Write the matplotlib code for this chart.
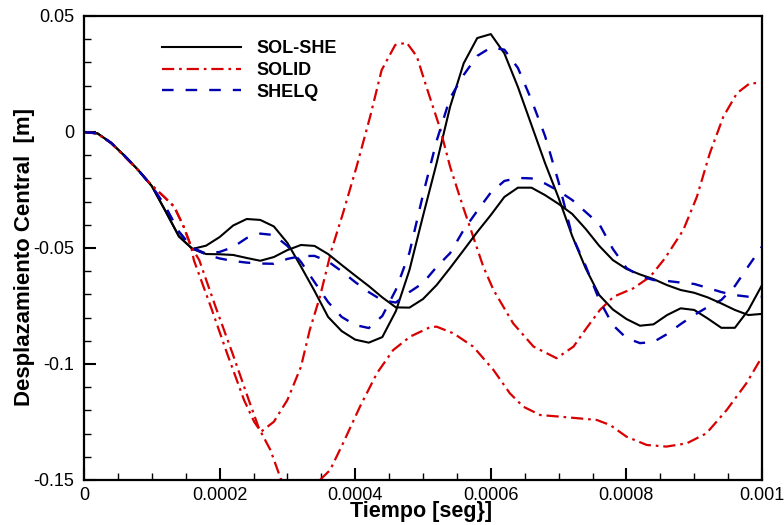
import matplotlib
matplotlib.use("Agg")
import matplotlib.pyplot as plt
from matplotlib.ticker import MultipleLocator
import numpy as np

plt.rcParams['font.family'] = ['Liberation Sans', 'DejaVu Sans']
plt.rcParams['axes.unicode_minus'] = False

# time grid of the SOL-SHE / SHELQ results (microseconds)
t_us = [0, 20, 40, 60, 80, 100, 120, 140, 160, 180, 200, 220, 240, 260, 280,
        300, 320, 340, 360, 380, 400, 420, 440, 460, 480, 500, 520, 540, 560,
        580, 600, 620, 640, 660, 680, 700, 720, 740, 760, 780, 800, 820, 840,
        860, 880, 900, 920, 940, 960, 980, 1000]

solshe_a = [0, -0.0006, -0.0047, -0.0103, -0.0164, -0.0233, -0.034, -0.045, -0.0504,
            -0.049, -0.0453, -0.0403, -0.0375, -0.0379, -0.0407, -0.0478, -0.058,
            -0.0685, -0.0797, -0.0858, -0.0895, -0.0908, -0.0884, -0.0772, -0.0595,
            -0.0362, -0.0135, 0.0109, 0.0296, 0.0405, 0.0422, 0.0339, 0.0194, 0.003,
            -0.0134, -0.0284, -0.0448, -0.0588, -0.0703, -0.0765, -0.0806, -0.0835,
            -0.0829, -0.0789, -0.076, -0.0767, -0.0804, -0.0844, -0.0844, -0.0767, -0.066]
solshe_b = [0, -0.0006, -0.0047, -0.0103, -0.0164, -0.0233, -0.034, -0.045, -0.0504,
            -0.0526, -0.0527, -0.053, -0.0543, -0.0555, -0.0539, -0.0509, -0.0487,
            -0.0491, -0.0526, -0.0573, -0.0619, -0.0664, -0.0713, -0.0756, -0.0757,
            -0.072, -0.066, -0.0586, -0.0509, -0.0431, -0.0358, -0.028, -0.024, -0.024,
            -0.0272, -0.031, -0.0353, -0.0418, -0.0491, -0.0552, -0.059, -0.0614,
            -0.0634, -0.066, -0.0681, -0.0693, -0.0713, -0.0739, -0.0767, -0.0789, -0.0784]

shelq_a = [0, -0.0006, -0.0047, -0.0103, -0.0164, -0.0233, -0.0322, -0.043, -0.05,
           -0.0524, -0.0517, -0.0496, -0.0457, -0.0438, -0.0444, -0.0491, -0.056,
           -0.0647, -0.0733, -0.0797, -0.0832, -0.0845, -0.0793, -0.068, -0.052,
           -0.027, -0.0039, 0.0147, 0.0246, 0.0328, 0.0364, 0.0355, 0.0276, 0.0138,
           -0.0017, -0.0216, -0.0448, -0.0578, -0.0724, -0.0832, -0.0888, -0.091,
           -0.0905, -0.0871, -0.0828, -0.0789, -0.0754, -0.0724, -0.0664, -0.0578, -0.0494]
shelq_b = [0, -0.0006, -0.0047, -0.0103, -0.0164, -0.0233, -0.0322, -0.043, -0.05,
           -0.0528, -0.0545, -0.0556, -0.0563, -0.0567, -0.0568, -0.0547, -0.0535,
           -0.0534, -0.0558, -0.06, -0.0647, -0.069, -0.0726, -0.0735, -0.069,
           -0.0651, -0.0582, -0.0522, -0.0422, -0.034, -0.0261, -0.0211, -0.0198, -0.02,
           -0.0222, -0.0254, -0.0293, -0.0345, -0.0397, -0.0504, -0.0586, -0.0621,
           -0.0638, -0.0642, -0.0649, -0.0655, -0.0672, -0.069, -0.0703, -0.071, -0.071]

# SOLID results (finer output, read point by point)
solid_a_t = [0, 0.0000192, 0.0000398, 0.000059, 0.0000796, 0.0000988, 0.000118, 0.000133,
             0.000147, 0.000158, 0.000162, 0.000187, 0.000211, 0.000236, 0.000251, 0.000261,
             0.00028, 0.0003, 0.00032, 0.000333, 0.000348, 0.000365, 0.000382, 0.000402,
             0.000422, 0.000439, 0.000459, 0.000476, 0.000491, 0.000505, 0.000525, 0.00054,
             0.000559, 0.000574, 0.000589, 0.000604, 0.000633, 0.000663, 0.000697, 0.000722,
             0.000741, 0.000761, 0.000781, 0.00081, 0.000835, 0.000857, 0.000884, 0.000904,
             0.000923, 0.000943, 0.000963, 0.000982, 0.001]
solid_a = [0, -0.0006, -0.0047, -0.0103, -0.0164, -0.0227, -0.0279, -0.0322,
           -0.0408, -0.0494, -0.0552, -0.0753, -0.0954, -0.1155, -0.1249, -0.1292,
           -0.1249, -0.1155, -0.1012, -0.0853, -0.071, -0.0509, -0.035, -0.015,
           0.0066, 0.0267, 0.0375, 0.0385, 0.0325, 0.0195, 0.0017, -0.015,
           -0.0322, -0.0451, -0.0581, -0.0681, -0.0825, -0.0925, -0.0975, -0.0925,
           -0.0846, -0.0767, -0.071, -0.0674, -0.0624, -0.0544, -0.0422, -0.0279,
           -0.0092, 0.0066, 0.0167, 0.021, 0.0211]

solid_b_t = [0, 0.0000192, 0.0000398, 0.000059, 0.0000796, 0.0000988, 0.000118, 0.000133,
             0.000147, 0.000158, 0.00017, 0.000194, 0.000219, 0.000243, 0.000258, 0.000275,
             0.00029, 0.00031, 0.000348, 0.000363, 0.000382, 0.000407, 0.000432, 0.000456,
             0.000481, 0.00051, 0.00052, 0.000545, 0.000574, 0.000604, 0.000628, 0.000648,
             0.000673, 0.000702, 0.000756, 0.000776, 0.0008, 0.00083, 0.000859, 0.000889,
             0.000918, 0.000948, 0.000977, 0.001]
solid_b = [0, -0.0006, -0.0047, -0.0103, -0.0164, -0.0227, -0.0279, -0.0322,
           -0.0408, -0.0494, -0.0552, -0.0753, -0.0954, -0.1155, -0.1277, -0.1371,
           -0.1493, -0.158, -0.15, -0.1457, -0.1342, -0.1184, -0.104, -0.094,
           -0.0882, -0.0842, -0.0839, -0.0868, -0.0925, -0.1026, -0.1126, -0.1184,
           -0.122, -0.1227, -0.1241, -0.1263, -0.1313, -0.1349, -0.1356, -0.1342,
           -0.1299, -0.1198, -0.1083, -0.0969]

xtick_vals = [0, 0.0002, 0.0004, 0.0006, 0.0008, 0.001]
xtick_labels = ['0', '0.0002', '0.0004', '0.0006', '0.0008', '0.001']
ytick_vals = [-0.15, -0.1, -0.05, 0, 0.05]
ytick_labels = ['-0.15', '-0.1', '-0.05', '0', '0.05']

t = np.array(t_us) * 1e-6

fig = plt.figure(figsize=(7.84, 5.25), dpi=100)
ax = fig.add_axes([84 / 784, 45 / 525, 678 / 784, 464 / 525])

red_style = (0, (5.5, 2.2, 1.2, 2.2))
blue_style = (0, (4.9, 5.1))

ax.plot(t, solshe_a, color='black', lw=1.5, label='SOL-SHE')
ax.plot(solid_a_t, solid_a, color='#d80000', lw=1.6, ls=red_style, label='SOLID')
ax.plot(t, shelq_a, color='#0000b0', lw=1.7, ls=blue_style, label='SHELQ')
ax.plot(t, solshe_b, color='black', lw=1.5)
ax.plot(solid_b_t, solid_b, color='#d80000', lw=1.6, ls=red_style)
ax.plot(t, shelq_b, color='#0000b0', lw=1.7, ls=blue_style)

ax.set_xlim(0, 0.001)
ax.set_ylim(-0.15, 0.05)
ax.set_xticks(xtick_vals)
ax.set_xticklabels(xtick_labels)
ax.set_yticks(ytick_vals)
ax.set_yticklabels(ytick_labels)
ax.xaxis.set_minor_locator(MultipleLocator(0.00005))
ax.yaxis.set_minor_locator(MultipleLocator(0.01))
ax.tick_params(which='major', direction='in', length=8.5, width=1.5,
               labelsize=13, top=False, right=False)
ax.tick_params(which='minor', direction='in', length=4.8, width=1.0,
               top=False, right=False)
ax.tick_params(axis='y', which='major', pad=7)
ax.tick_params(axis='x', which='major', pad=5)

for side in ['left', 'bottom', 'top', 'right']:
    ax.spines[side].set_linewidth(1.6)

ax.set_xlabel('Tiempo [seg}]', fontsize=15.5, fontweight='bold', va='top')
ax.xaxis.set_label_coords(0.497, -0.046)
ax.set_ylabel('Desplazamiento Central  [m]', fontsize=16, fontweight='bold')
ax.yaxis.set_label_coords(-0.072, 0.48)

ax.legend(loc='upper left', bbox_to_anchor=(0.1146, 0.948), frameon=False,
          prop={'weight': 'bold', 'size': 13}, handlelength=4.4,
          handletextpad=0.85, labelspacing=0.26, borderpad=0, borderaxespad=0)

fig.savefig('out.png', dpi=100)
